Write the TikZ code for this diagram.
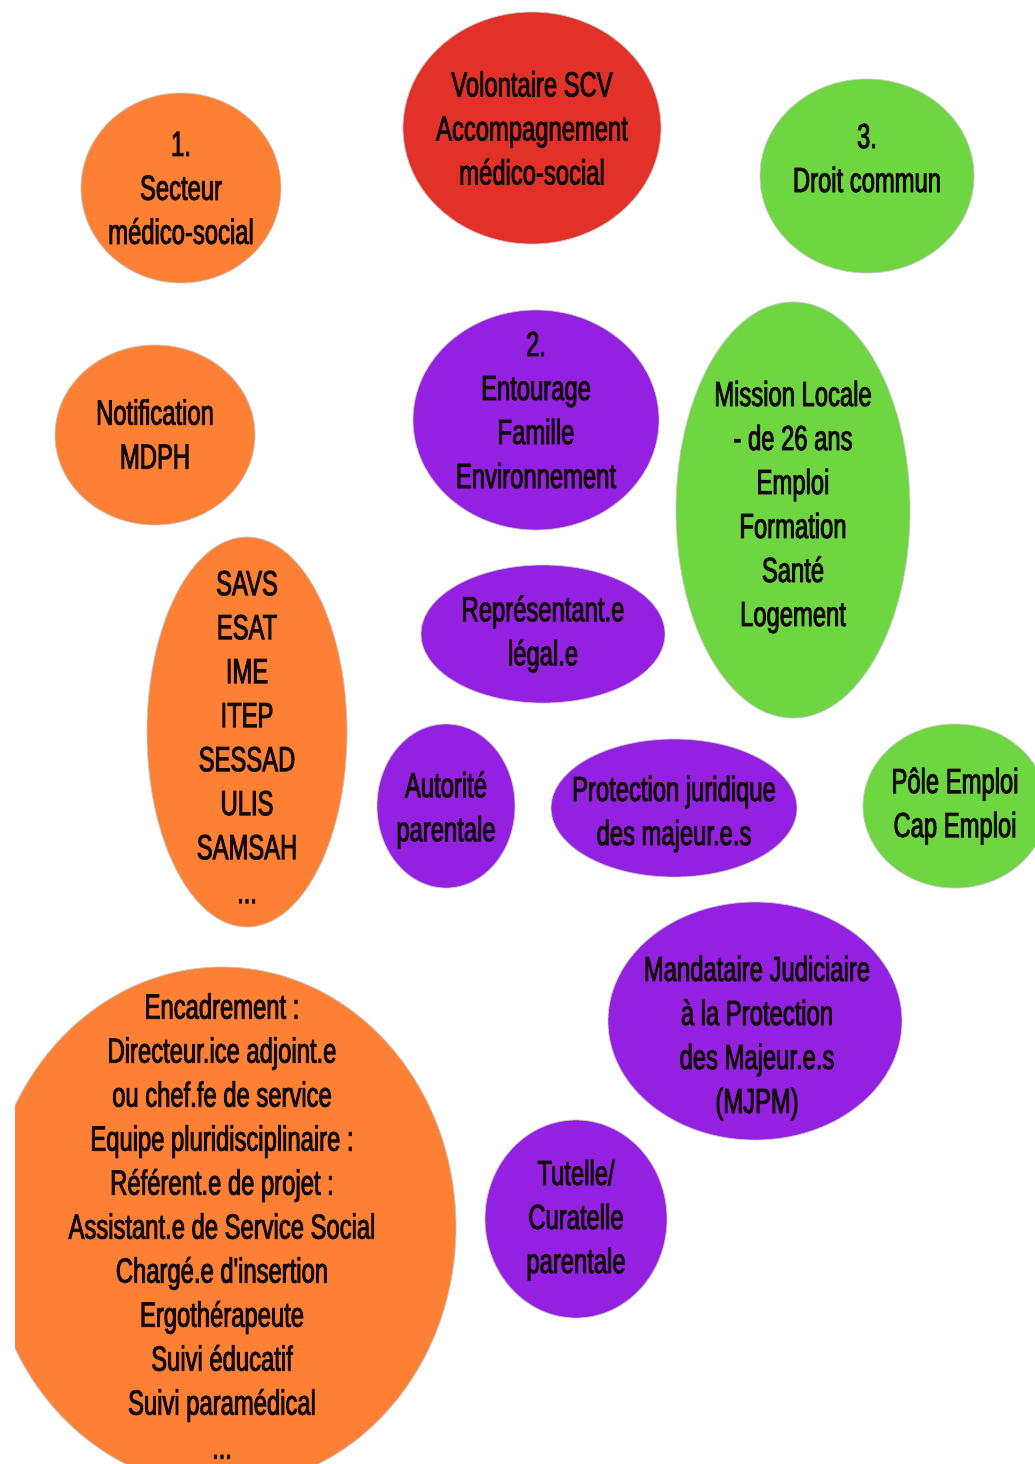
\documentclass[tikz,border=0pt]{standalone}
\usepackage{fontspec}
\setmainfont{Liberation Sans}[Ligatures=TeXOff,FakeStretch=0.68,FakeBold=2.4]
\definecolor{corange}{RGB}{253,128,52}
\definecolor{cred}{RGB}{226,49,41}
\definecolor{cgreen}{RGB}{109,214,64}
\definecolor{cpurple}{RGB}{148,32,226}
\definecolor{ctext}{RGB}{20,12,12}
\tikzset{
  bubble/.style={draw=black!22, line width=0.8pt},
  lbl/.style={align=center, inner sep=0pt, text=ctext, font=\fontsize{35}{44}\selectfont}
}
\begin{document}
\begin{tikzpicture}[x=1pt,y=-1pt]
\useasboundingbox (0,0) rectangle (1035,1464);
\begin{scope}
\clip (0,0) rectangle (1035,1464);
% ellipses
\path[bubble, fill=corange] (181,188) ellipse [x radius=100, y radius=95];
\path[bubble, fill=cred] (532,128) ellipse [x radius=129, y radius=116];
\path[bubble, fill=cgreen] (867,176) ellipse [x radius=107, y radius=97];
\path[bubble, fill=corange] (155,435) ellipse [x radius=100, y radius=90];
\path[bubble, fill=cpurple] (536,420) ellipse [x radius=123, y radius=110];
\path[bubble, fill=cgreen] (793,510) ellipse [x radius=117, y radius=208];
\path[bubble, fill=corange] (247,732) ellipse [x radius=100, y radius=195];
\path[bubble, fill=cpurple] (543,634) ellipse [x radius=122, y radius=69];
\path[bubble, fill=cpurple] (446,806) ellipse [x radius=69, y radius=82];
\path[bubble, fill=cpurple] (674,808) ellipse [x radius=123, y radius=69];
\path[bubble, fill=cgreen] (955,806) ellipse [x radius=92, y radius=82];
\path[bubble, fill=cpurple] (755,1021) ellipse [x radius=147, y radius=119];
\path[bubble, fill=cpurple] (576,1219) ellipse [x radius=91, y radius=99];
\begin{scope}
\clip (15,0) rectangle (1035,1464);
\path[bubble, fill=corange] (222,1227) ellipse [x radius=234, y radius=260];
\end{scope}
\end{scope}
% labels
\node[lbl] (secteur) at (181,188) {1.\\Secteur\\médico-social};
\node[lbl] (scv) at (532,128) {Volontaire SCV\\Accompagnement\\médico-social};
\node[lbl] (droit) at (867,158) {3.\\Droit commun};
\node[lbl] (mdph) at (155,434) {Notification\\MDPH};
\node[lbl] (entourage) at (536,410) {2.\\Entourage\\Famille\\Environnement};
\node[lbl] (mission) at (793,507) {Mission Locale\\- de 26 ans\\Emploi\\Formation\\Santé\\Logement};
\node[lbl] (savs) at (247,737) {SAVS\\ESAT\\IME\\ITEP\\SESSAD\\ULIS\\SAMSAH\\...};
\node[lbl] (repr) at (543,634) {Représentant.e\\légal.e};
\node[lbl] (autorite) at (446,810) {Autorité\\parentale};
\node[lbl] (protection) at (674,814) {Protection juridique\\des majeur.e.s};
\node[lbl] (pole) at (955,806) {Pôle Emploi\\Cap Emploi};
\node[lbl] (mjpm) at (757,1038) {Mandataire Judiciaire\\à la Protection\\des Majeur.e.s\\(MJPM)};
\node[lbl] (tutelle) at (576,1220) {Tutelle/\\Curatelle\\parentale};
\node[lbl] (encadrement) at (222,1226) {Encadrement :\\Directeur.ice adjoint.e\\ou chef.fe de service\\Equipe pluridisciplinaire :\\Référent.e de projet :\\Assistant.e de Service Social\\Chargé.e d'insertion\\Ergothérapeute\\Suivi éducatif\\Suivi paramédical\\...};
\end{tikzpicture}
\end{document}
